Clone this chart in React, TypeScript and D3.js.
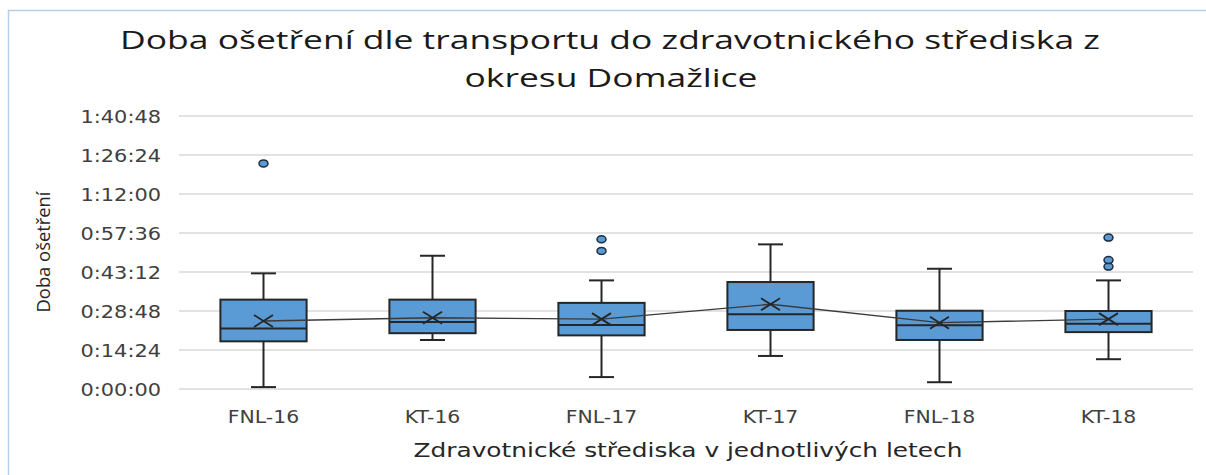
import React from "react";
import * as d3 from "d3";

// ---- data (minutes) ----
const categories = ["FNL-16", "KT-16", "FNL-17", "KT-17", "FNL-18", "KT-18"];
const whiskerLow = [0.7, 18.1, 4.4, 12.2, 2.5, 11.0];
const q1 = [17.6, 20.6, 19.8, 21.8, 18.1, 21.0];
const medians = [22.3, 24.7, 23.6, 27.6, 23.5, 24.1];
const q3 = [33.0, 33.0, 31.8, 39.5, 28.9, 28.8];
const whiskerHigh = [42.7, 49.2, 40.1, 53.4, 44.4, 40.1];
const means = [25.1, 26.3, 25.8, 31.3, 24.5, 25.8];
const outliers: number[][] = [[83.3], [], [51.0, 55.3], [], [], [45.2, 47.6, 55.9]];
const yTickSeconds = [0, 864, 1728, 2592, 3456, 4320, 5184, 6048];
const titleLines = [
  "Doba ošetření dle transportu do zdravotnického střediska z",
  "okresu Domažlice",
];
const xAxisTitle = "Zdravotnické střediska v jednotlivých letech";
const yAxisTitle = "Doba ošetření";

const fmt = (s: number) => {
  const h = Math.floor(s / 3600);
  const m = Math.floor((s % 3600) / 60);
  const sec = Math.round(s % 60);
  return `${h}:${String(m).padStart(2, "0")}:${String(sec).padStart(2, "0")}`;
};

export default function App() {
  const W = 1206, H = 475;
  const left = 179, right = 1193, top = 116, bottom = 389;
  const x = d3.scaleBand<string>().domain(categories).range([left, right]).padding(0);
  const y = d3.scaleLinear().domain([0, 6048]).range([bottom, top]);
  const ym = (m: number) => y(m * 60);
  const bw = x.bandwidth() * 0.51;
  const cx = (c: string) => (x(c) as number) + x.bandwidth() / 2;
  const meanLine = d3.line<number>()
    .x((_, i) => cx(categories[i]))
    .y((v) => ym(v));
  const dark = "#262626";
  const blue = "#5b9bd5";
  const axisFont = "'DejaVu Sans', sans-serif";

  return (
    <svg width={W} height={H} style={{ position: "absolute", left: 0, top: 0, display: "block" }}>
      <rect x={0} y={0} width={W} height={H} fill="#fff" />
      <rect x={8.5} y={10.5} width={1220} height={500} fill="none" stroke="#b4cfe9" strokeWidth={1.5} />
      {/* title */}
      <text x={610} y={49} textAnchor="middle" fontFamily="'Open Sans', sans-serif" fontSize={26} fill="#1a1a1a"
        textLength={980} lengthAdjust="spacingAndGlyphs">{titleLines[0]}</text>
      <text x={611} y={87} textAnchor="middle" fontFamily="'Open Sans', sans-serif" fontSize={26} fill="#1a1a1a"
        textLength={293} lengthAdjust="spacingAndGlyphs">{titleLines[1]}</text>
      {/* grid */}
      {yTickSeconds.map((t) => (
        <line key={t} x1={left} x2={right} y1={y(t)} y2={y(t)} stroke="#d9d9d9" strokeWidth={1.5} />
      ))}
      {/* y ticks */}
      {yTickSeconds.map((t) => (
        <g key={"yt" + t} transform={`translate(161,${y(t) + 6.5}) scale(1.16,1)`}>
          <text textAnchor="end" fontFamily={axisFont} fontSize={18} fill="#404040">{fmt(t)}</text>
        </g>
      ))}
      {/* y title */}
      <text transform="translate(50,252) rotate(-90)" textAnchor="middle" fontFamily="'Open Sans', sans-serif"
        fontSize={18} fill="#262626" textLength={121} lengthAdjust="spacingAndGlyphs">{yAxisTitle}</text>
      {/* x ticks */}
      {categories.map((c) => (
        <g key={"xt" + c} transform={`translate(${cx(c)},423) scale(1.2,1)`}>
          <text textAnchor="middle" fontFamily={axisFont} fontSize={17} fill="#404040">{c}</text>
        </g>
      ))}
      <text x={688} y={457} textAnchor="middle" fontFamily={axisFont} fontSize={19} fill="#262626"
        textLength={549} lengthAdjust="spacingAndGlyphs">{xAxisTitle}</text>
      {/* boxes */}
      {categories.map((c, i) => {
        const xc = cx(c);
        return (
          <g key={"b" + c}>
            <line x1={xc} x2={xc} y1={ym(whiskerLow[i])} y2={ym(q1[i])} stroke={dark} strokeWidth={2} />
            <line x1={xc} x2={xc} y1={ym(q3[i])} y2={ym(whiskerHigh[i])} stroke={dark} strokeWidth={2} />
            <line x1={xc - 12.5} x2={xc + 12.5} y1={ym(whiskerLow[i])} y2={ym(whiskerLow[i])} stroke={dark} strokeWidth={2} />
            <line x1={xc - 12.5} x2={xc + 12.5} y1={ym(whiskerHigh[i])} y2={ym(whiskerHigh[i])} stroke={dark} strokeWidth={2} />
            <rect x={xc - bw / 2} y={ym(q3[i])} width={bw} height={ym(q1[i]) - ym(q3[i])} fill={blue} stroke={dark} strokeWidth={2} />
            <line x1={xc - bw / 2} x2={xc + bw / 2} y1={ym(medians[i])} y2={ym(medians[i])} stroke={dark} strokeWidth={2} />
            {outliers[i].map((o, j) => (
              <ellipse key={j} cx={xc} cy={ym(o)} rx={4.5} ry={3.5} fill={blue} stroke="#1f2d3d" strokeWidth={1.5} />
            ))}
          </g>
        );
      })}
      {/* mean line */}
      <path d={meanLine(means) as string} fill="none" stroke="#3a3a3a" strokeWidth={1.3} />
      {categories.map((c, i) => {
        const xc = cx(c), yc = ym(means[i]);
        return (
          <path key={"m" + c} d={`M${xc - 9.5},${yc - 6}L${xc + 9.5},${yc + 6}M${xc - 9.5},${yc + 6}L${xc + 9.5},${yc - 6}`}
            stroke={dark} strokeWidth={1.8} fill="none" />
        );
      })}
    </svg>
  );
}
